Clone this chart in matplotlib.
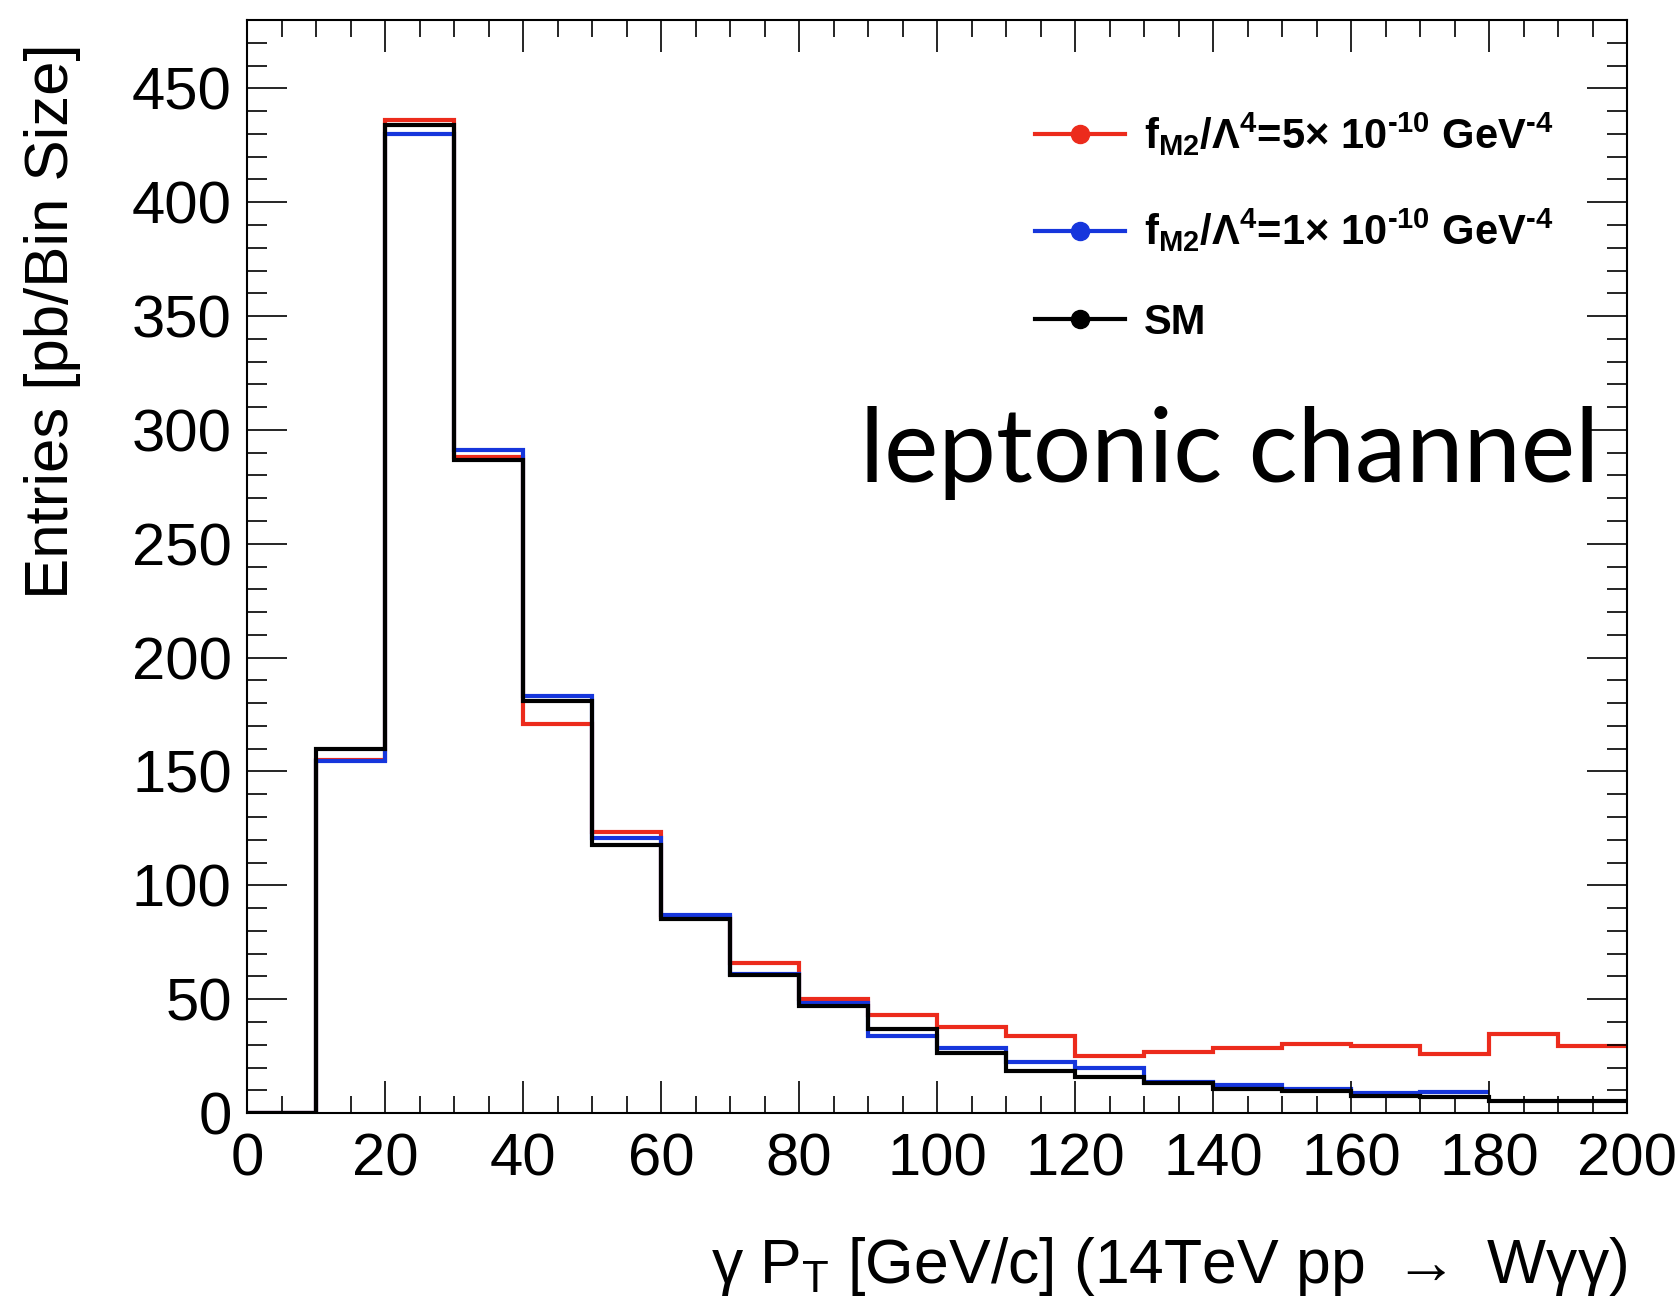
import numpy as np
import matplotlib
matplotlib.use("Agg")
import matplotlib.pyplot as plt
from matplotlib.ticker import MultipleLocator

plt.rcParams["font.family"] = ["Liberation Sans", "DejaVu Sans"]
plt.rcParams["mathtext.default"] = "regular"

# bin edges of the photon pT histogram (GeV/c)
edges = np.arange(0, 210, 10)
edges_blue = np.arange(0, 190, 10)

# entries [pb / bin size]
fm2_5e10 = [0, 155, 436, 288, 171, 123.5, 86, 66, 50, 43,
            38, 34, 25, 27, 28.5, 30.5, 29.5, 26, 34.5, 29.5]
fm2_1e10 = [0, 154.5, 430, 291, 183, 121, 87, 61, 48.5, 34,
            28.5, 22.3, 19.6, 13.5, 12.4, 10.5, 8.8, 9.1]
sm = [0, 160, 434, 287, 181, 117.5, 85, 60.5, 47, 37,
      26.5, 18.6, 15.8, 13.3, 10.5, 9.8, 7.6, 6.9, 5.1, 5.1]

labels = [
    "f$_{M2}$/Λ$^{4}$=5× 10$^{‐10}$ GeV$^{‐4}$",
    "f$_{M2}$/Λ$^{4}$=1× 10$^{‐10}$ GeV$^{‐4}$",
    "SM",
]
colors = ["#ec2b1c", "#1636dc", "black"]

fig = plt.figure(figsize=(16.81, 13.09), dpi=100)
ax = fig.add_axes([0.147, 0.1497, 0.821, 0.835])

ax.stairs(fm2_5e10, edges, baseline=None, color=colors[0], lw=3)
ax.stairs(fm2_1e10, edges_blue, baseline=None, color=colors[1], lw=3)
ax.stairs(sm, edges, baseline=None, color=colors[2], lw=3)

ax.set_xlim(0, 200)
ax.set_ylim(0, 480)
ax.xaxis.set_major_locator(MultipleLocator(20))
ax.xaxis.set_minor_locator(MultipleLocator(5))
ax.yaxis.set_major_locator(MultipleLocator(50))
ax.yaxis.set_minor_locator(MultipleLocator(10))
ax.tick_params(which="both", direction="in", top=True, right=True,
               width=1.2, labelsize=43)
ax.tick_params(axis="x", which="major", length=23, pad=14)
ax.tick_params(axis="x", which="minor", length=12)
ax.tick_params(axis="y", which="major", length=29, pad=11)
ax.tick_params(axis="y", which="minor", length=14.5)
for s in ax.spines.values():
    s.set_linewidth(1.5)

handles = [plt.Line2D([], [], color=c, lw=3, marker="o", markersize=13)
           for c in colors]
ax.legend(handles, labels, loc="upper left", bbox_to_anchor=(0.571, 0.917),
          frameon=False, borderpad=0, borderaxespad=0, handlelength=2.15,
          handletextpad=0.47, labelspacing=1.17,
          prop={"size": 30, "weight": "bold"})

ax.text(0.712, 0.577, "leptonic channel", transform=ax.transAxes,
        ha="center", va="baseline", fontsize=74, family=["Lato", "DejaVu Sans"])

fig.text(0.031, 0.967, "Entries [pb/Bin Size]", rotation=90,
         ha="center", va="top", fontsize=44.5)
fig.text(0.968, 0.02, r"γ P$_{T}$ [GeV/c] (14TeV pp $\rightarrow$ Wγγ)",
         ha="right", va="baseline", fontsize=45)

fig.savefig("out.png", dpi=100)
